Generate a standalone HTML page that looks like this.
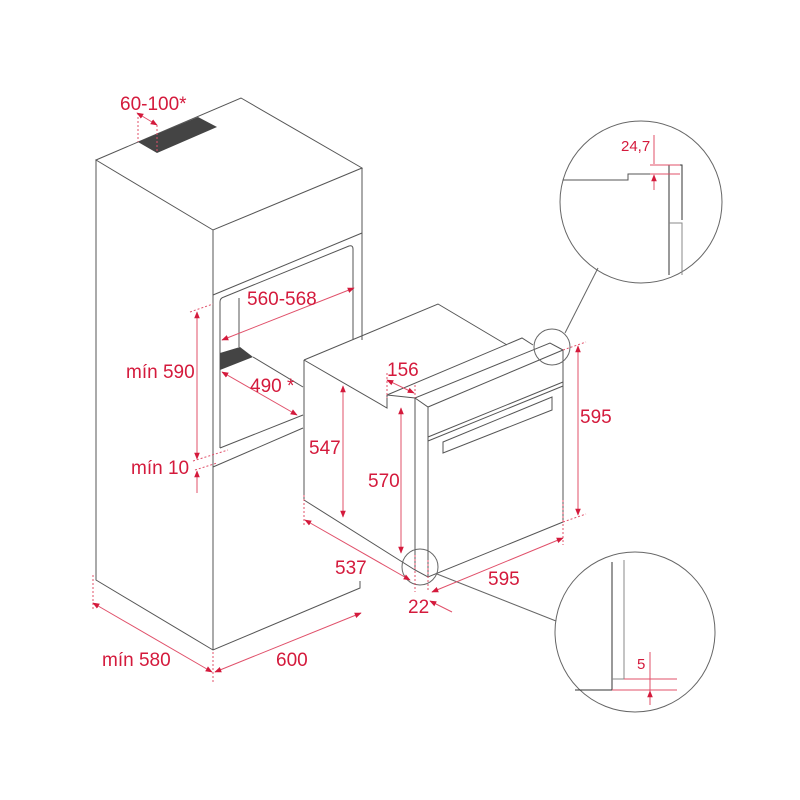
<!DOCTYPE html>
<html><head><meta charset="utf-8"><style>
html,body{margin:0;padding:0;background:#fff;}
svg{display:block}
text{font-family:"Liberation Sans",sans-serif;fill:#d41a3c;font-size:19px}
</style></head><body>
<svg width="800" height="800" viewBox="0 0 800 800" xmlns="http://www.w3.org/2000/svg">
<defs>
<marker id="a" viewBox="0 0 10 10" refX="9" refY="5" markerWidth="7" markerHeight="7" orient="auto-start-reverse"><path d="M0,1 L10,5 L0,9 z" fill="#d41a3c"/></marker>
</defs>
<g fill="none" stroke="#555" stroke-width="1">
<path d="M96,160 L241,98 L362,168 L213,230 Z"/>
<path d="M96,160 V580 L213,650 L360,588 V581"/>
<path d="M213,230 V650"/>
<path d="M362,168 V340"/>
<path d="M213,295 L362,233"/>
<path d="M220,448 V302 Q220,298 224,297 L349,246 Q353,245 353,249 V340"/>
<path d="M239,298 V347"/>
<path d="M220,448 L303,415"/>
<path d="M213,467 L303,428"/>
<path d="M253,357 L303,387"/>
<path d="M304,360 L438,304 L507,345"/>
<path d="M304,360 V500 L415,570"/>
<path d="M304,360 L387,408 V395"/>
<path d="M387,395 L522,338 L533,345"/>
<path d="M387,395 L415,398 L550,343 L563,350"/>
<path d="M415,398 L428,407 L563,350"/>
<path d="M415,398 V570 L428,577 L563,522 V350"/>
<path d="M428,407 V577"/>
<path d="M428,437 L563,382 M428,441 L563,386"/>
<path d="M443,442 L552,397 V410 L443,453 Z"/>
<circle cx="552" cy="347" r="18" stroke="#666"/>
<circle cx="420" cy="567" r="18" stroke="#666"/>
<circle cx="641" cy="202" r="81" stroke="#666"/>
<circle cx="635" cy="632" r="80" stroke="#666"/>
<path d="M565,333 L598,268" stroke="#666"/>
<path d="M437,574 L556,621" stroke="#666"/>
<path d="M563,180 H628 V174 H669"/>
<path d="M669,165 H682 V220 M669,165 V275" stroke="#333"/>
<path d="M669,223 H682 V275" stroke="#888"/>
<path d="M612,562 V690 H575" stroke="#333"/>
<path d="M624,560 V679 H612" stroke="#888"/>
</g>
<path d="M138,142 L198,117 L217,127 L157,153 Z" fill="#444"/>
<path d="M220,353 L240,347 L253,357 L220,370 Z" fill="#444"/>
<g fill="none" stroke="#e0506a" stroke-width="1">
<path d="M138,113 V142 M157,125 V153 M190,312 L213,304 M193,461 L228,450 M195,470 L217,463 M93,575 V610 M213,652 V683 M304,495 V527 M387,373 V398 M415,385 V398 M415,555 V592 M428,560 V592 M563,500 V545 M563,350 L586,342 M563,522 L586,514" stroke-dasharray="2,2"/>
<path d="M137,113 L157,125" marker-start="url(#a)" marker-end="url(#a)"/>
<path d="M197,312 V459" marker-start="url(#a)" marker-end="url(#a)"/>
<path d="M197,493 V471" marker-end="url(#a)"/>
<path d="M222,340 L354,288" marker-start="url(#a)" marker-end="url(#a)"/>
<path d="M222,372 L297,415" marker-start="url(#a)" marker-end="url(#a)"/>
<path d="M93,603 L212,672" marker-start="url(#a)" marker-end="url(#a)"/>
<path d="M215,672 L361,613" marker-start="url(#a)" marker-end="url(#a)"/>
<path d="M343,386 V517" marker-start="url(#a)" marker-end="url(#a)"/>
<path d="M401,408 V553" marker-start="url(#a)" marker-end="url(#a)"/>
<path d="M387,380 L414,393" marker-start="url(#a)" marker-end="url(#a)"/>
<path d="M578,346 V515" marker-start="url(#a)" marker-end="url(#a)"/>
<path d="M305,520 L410,580" marker-start="url(#a)" marker-end="url(#a)"/>
<path d="M432,592 L563,538" marker-start="url(#a)" marker-end="url(#a)"/>
<path d="M452,612 L430,601" marker-end="url(#a)"/>
<path d="M650,165 H680 M650,174 H680 M654,135 V164 M654,175 V190"/>
<path d="M654,150 V164 M654,190 V175" marker-end="url(#a)"/>
<path d="M624,679 H677 M612,690 H677 M650,652 V705"/>
<path d="M650,665 V678 M650,705 V691" marker-end="url(#a)"/>
</g>
<text x="120" y="110">60-100*</text>
<text x="247" y="305">560-568</text>
<text x="126" y="378">mín 590</text>
<text x="250" y="392">490 *</text>
<text x="131" y="474">mín 10</text>
<text x="102" y="666">mín 580</text>
<text x="276" y="666">600</text>
<text x="309" y="454">547</text>
<text x="368" y="487">570</text>
<text x="387" y="376">156</text>
<text x="580" y="423">595</text>
<text x="335" y="574">537</text>
<text x="488" y="585">595</text>
<text x="408" y="613">22</text>
<text x="621" y="151" style="font-size:15px">24,7</text>
<text x="637" y="669" style="font-size:15px">5</text>
</svg>
</body></html>
